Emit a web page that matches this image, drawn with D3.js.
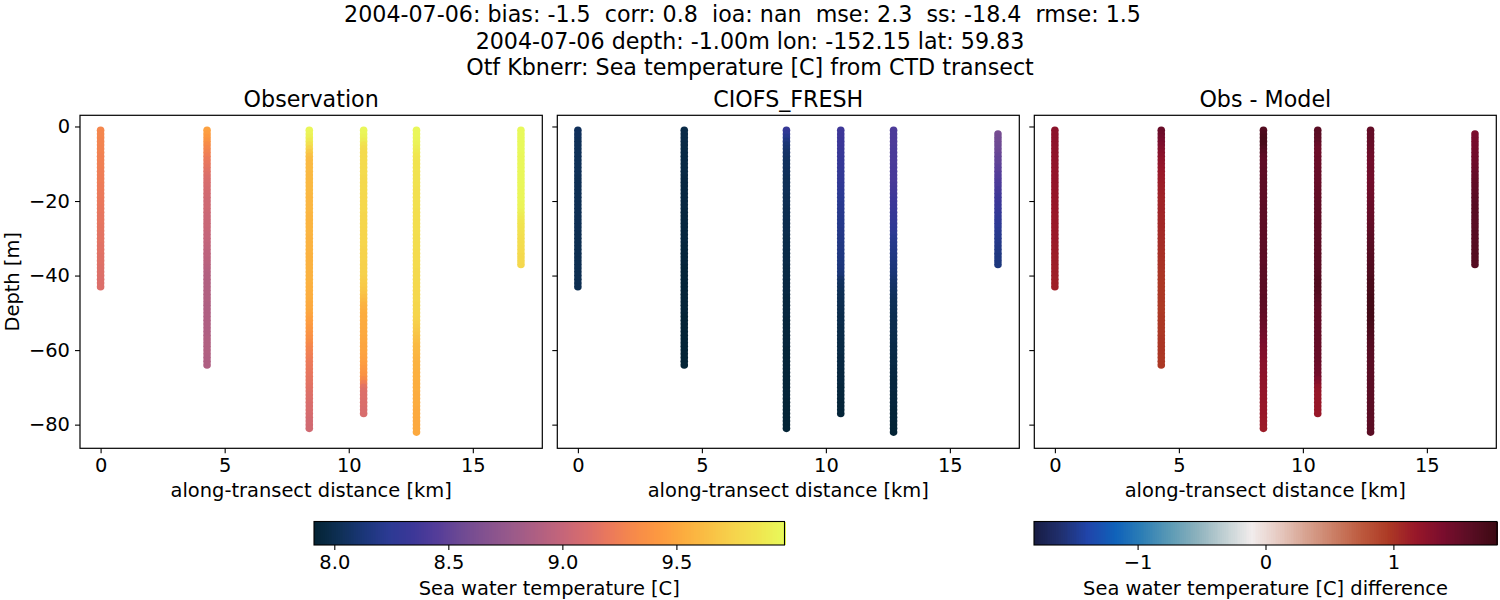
<!DOCTYPE html>
<html><head><meta charset="utf-8">
<script src="https://cdn.jsdelivr.net/npm/d3@7"></script>
<style>html,body{margin:0;padding:0;background:#fff}svg{display:block}text{font-family:"DejaVu Sans";fill:#000}</style>
</head><body><svg id="c" width="1500" height="600"></svg>
<script>
const titleLines = ["2004-07-06: bias: -1.5  corr: 0.8  ioa: nan  mse: 2.3  ss: -18.4  rmse: 1.5","2004-07-06 depth: -1.00m lon: -152.15 lat: 59.83","Otf Kbnerr: Sea temperature [C] from CTD transect"];
const panelTitles = ["Observation","CIOFS_FRESH","Obs - Model"];
const castDistance = [0, 4.29, 8.41, 10.6, 12.73, 16.94];
const obsFirstDepth = [1,1,1,1,1,1];
const modelFirstDepth = [1,1,1,1,1,2];
const xTicks = [0,5,10,15];
const yTicks = [0,-20,-40,-60,-80];
const tempTicks = [8.0,8.5,9.0,9.5];
const diffTicks = [-1,0,1];

const obs0 = [9.30,9.29,9.29,9.28,9.28,9.27,9.27,9.26,9.26,9.25,9.25,9.24,9.24,9.23,9.23,9.22,9.22,9.21,9.21,9.20,9.20,9.19,9.19,9.18,9.18,9.18,9.17,9.17,9.16,9.16,9.16,9.15,9.15,9.15,9.14,9.14,9.14,9.13,9.13,9.13,9.12,9.12,9.12];
const obs1 = [9.47,9.45,9.42,9.38,9.33,9.30,9.27,9.24,9.21,9.19,9.17,9.15,9.13,9.11,9.10,9.09,9.08,9.07,9.06,9.05,9.05,9.05,9.04,9.03,9.03,9.02,9.02,9.01,9.00,9.00,8.99,8.98,8.97,8.96,8.96,8.95,8.94,8.93,8.92,8.91,8.91,8.90,8.90,8.90,8.90,8.90,8.90,8.89,8.89,8.89,8.89,8.89,8.89,8.89,8.89,8.89,8.90,8.90,8.90,8.90,8.90,8.89,8.89,8.89];
const obs2 = [9.95,9.94,9.92,9.88,9.83,9.76,9.70,9.65,9.62,9.61,9.61,9.61,9.60,9.60,9.60,9.60,9.60,9.60,9.59,9.59,9.59,9.59,9.59,9.58,9.58,9.58,9.58,9.58,9.58,9.57,9.57,9.57,9.57,9.57,9.56,9.56,9.56,9.56,9.56,9.56,9.56,9.56,9.55,9.55,9.54,9.54,9.53,9.52,9.51,9.50,9.48,9.46,9.44,9.42,9.40,9.38,9.36,9.33,9.30,9.28,9.26,9.24,9.22,9.21,9.20,9.19,9.18,9.17,9.16,9.15,9.14,9.13,9.12,9.11,9.10,9.10,9.09,9.08,9.07,9.07,9.06];
const obs3 = [9.96,9.95,9.93,9.90,9.85,9.81,9.80,9.80,9.80,9.80,9.80,9.80,9.80,9.79,9.79,9.79,9.79,9.79,9.78,9.78,9.78,9.78,9.78,9.77,9.77,9.77,9.77,9.76,9.76,9.76,9.76,9.76,9.75,9.75,9.75,9.75,9.74,9.74,9.74,9.74,9.72,9.71,9.70,9.68,9.66,9.63,9.60,9.57,9.55,9.54,9.53,9.53,9.52,9.52,9.51,9.51,9.50,9.50,9.49,9.49,9.48,9.47,9.46,9.44,9.42,9.40,9.38,9.32,9.24,9.16,9.13,9.12,9.12,9.11,9.11,9.10,9.10];
const obs4 = [9.96,9.95,9.95,9.94,9.93,9.91,9.89,9.87,9.86,9.85,9.85,9.85,9.84,9.84,9.84,9.84,9.83,9.83,9.83,9.83,9.83,9.83,9.82,9.82,9.82,9.82,9.82,9.82,9.82,9.81,9.81,9.81,9.81,9.80,9.80,9.80,9.80,9.80,9.79,9.79,9.79,9.79,9.78,9.78,9.78,9.78,9.78,9.77,9.77,9.77,9.76,9.75,9.73,9.71,9.69,9.67,9.65,9.63,9.61,9.60,9.59,9.58,9.57,9.56,9.56,9.55,9.55,9.55,9.54,9.54,9.54,9.53,9.53,9.53,9.53,9.52,9.52,9.52,9.51,9.51,9.51,9.51];
const obs5 = [9.97,9.97,9.97,9.97,9.97,9.97,9.97,9.96,9.96,9.96,9.96,9.96,9.96,9.96,9.96,9.96,9.95,9.95,9.95,9.95,9.94,9.94,9.92,9.90,9.88,9.86,9.85,9.84,9.83,9.82,9.81,9.81,9.80,9.80,9.79,9.79,9.78];

const mod0 = [8.04,8.04,8.04,8.03,8.03,8.03,8.03,8.03,8.03,8.03,8.03,8.03,8.03,8.02,8.02,8.02,8.02,8.02,8.02,8.02,8.02,8.02,8.02,8.02,8.02,8.02,8.02,8.02,8.01,8.01,8.01,8.01,8.01,8.01,8.01,8.01,8.01,8.01,8.01,8.01,8.01,8.01,8.01];
const mod1 = [7.98,7.98,7.98,7.98,7.97,7.97,7.97,7.97,7.97,7.97,7.97,7.97,7.97,7.96,7.96,7.96,7.96,7.96,7.96,7.96,7.96,7.96,7.95,7.95,7.95,7.95,7.95,7.95,7.95,7.95,7.95,7.94,7.94,7.94,7.94,7.94,7.94,7.93,7.93,7.93,7.93,7.93,7.93,7.93,7.93,7.93,7.93,7.93,7.93,7.93,7.92,7.92,7.92,7.92,7.92,7.92,7.92,7.92,7.92,7.92,7.92,7.92,7.92,7.92];
const mod2 = [8.30,8.26,8.21,8.16,8.12,8.10,8.08,8.07,8.06,8.05,8.05,8.04,8.04,8.03,8.03,8.03,8.03,8.03,8.02,8.02,8.02,8.01,8.01,8.01,8.01,8.00,8.00,8.00,8.00,7.99,7.99,7.99,7.99,7.98,7.98,7.98,7.98,7.97,7.97,7.97,7.97,7.96,7.96,7.96,7.96,7.95,7.95,7.95,7.95,7.95,7.95,7.94,7.94,7.94,7.94,7.94,7.94,7.94,7.94,7.93,7.93,7.93,7.93,7.93,7.93,7.93,7.93,7.93,7.93,7.93,7.93,7.93,7.93,7.92,7.92,7.92,7.92,7.92,7.92,7.92,7.92];
const mod3 = [8.36,8.35,8.35,8.34,8.34,8.33,8.32,8.32,8.31,8.30,8.30,8.29,8.29,8.28,8.28,8.27,8.26,8.25,8.24,8.23,8.22,8.22,8.21,8.21,8.20,8.20,8.20,8.19,8.19,8.18,8.18,8.17,8.17,8.16,8.16,8.15,8.15,8.14,8.13,8.12,8.08,8.05,8.04,8.03,8.02,8.02,8.01,8.01,8.00,8.00,7.99,7.99,7.99,7.98,7.98,7.98,7.98,7.97,7.97,7.97,7.97,7.96,7.96,7.96,7.96,7.95,7.95,7.95,7.95,7.94,7.94,7.94,7.94,7.93,7.93,7.93,7.93];
const mod4 = [8.42,8.42,8.42,8.42,8.42,8.41,8.41,8.41,8.41,8.41,8.40,8.40,8.40,8.40,8.40,8.39,8.38,8.37,8.36,8.35,8.34,8.33,8.32,8.31,8.30,8.29,8.27,8.26,8.24,8.22,8.21,8.20,8.19,8.18,8.17,8.16,8.15,8.14,8.13,8.12,8.10,8.08,8.07,8.06,8.05,8.04,8.03,8.03,8.02,8.02,8.01,8.01,8.00,8.00,8.00,7.99,7.99,7.99,7.98,7.98,7.98,7.97,7.97,7.97,7.96,7.96,7.96,7.95,7.95,7.95,7.95,7.94,7.94,7.94,7.94,7.93,7.93,7.93,7.93,7.92,7.92,7.92];
const mod5 = [8.60,8.58,8.57,8.56,8.55,8.54,8.52,8.51,8.50,8.48,8.47,8.45,8.44,8.42,8.41,8.39,8.38,8.36,8.35,8.33,8.32,8.30,8.29,8.27,8.26,8.25,8.23,8.22,8.21,8.20,8.19,8.18,8.17,8.16,8.16,8.15];

const obsCasts = [obs0,obs1,obs2,obs3,obs4,obs5];
const modelCasts = [mod0,mod1,mod2,mod3,mod4,mod5];

const thermalStops = ["#032333","#0e2f54","#1a3678","#2b3a93","#3c3798","#553d99","#6f4a93","#85528f","#9a5a8a","#af5f82","#c4657a","#d96d6c","#ec7a5a","#f78b49","#fd9a40","#fcae3f","#f9c145","#f6d44c","#f0e650","#e8fa5b"];
const balanceStops = ["#181c43","#20306f","#2045ab","#0f62ba","#2e7fb5","#5b9ab5","#8db2bd","#c1d0d3","#f1ecec","#e6c9c0","#d7a290","#cb7f66","#bd5a3e","#ad3a25","#981729","#7a0d2d","#5a0d24","#3c0912"];

const tempDomain = [7.911, 9.974];
const diffDomain = [-1.81, 1.81];
const thermal = d3.scaleLinear().domain(d3.range(thermalStops.length).map(i=>tempDomain[0]+(tempDomain[1]-tempDomain[0])*i/(thermalStops.length-1))).range(thermalStops).clamp(true);
const balance = d3.scaleLinear().domain(d3.range(balanceStops.length).map(i=>diffDomain[0]+(diffDomain[1]-diffDomain[0])*i/(balanceStops.length-1))).range(balanceStops).clamp(true);

function point(arr, first, cast){return arr.map((v,i)=>({x:castDistance[cast],depth:-(i+first),v}));}
const obsPoints = obsCasts.flatMap((a,c)=>point(a,obsFirstDepth[c],c));
const modelPoints = modelCasts.flatMap((a,c)=>point(a,modelFirstDepth[c],c));
const diffPoints = modelCasts.flatMap((a,c)=>a.map((v,i)=>({x:castDistance[c],depth:-(i+modelFirstDepth[c]),v:obsCasts[c][i+modelFirstDepth[c]-obsFirstDepth[c]]-v})));

const svg = d3.select("#c");
const F = 19.44, TF = 22.2;
svg.selectAll("text.sup").data(titleLines).join("text").attr("class","sup")
  .attr("x",(d,i)=>i==0?742.5:750).attr("y",(d,i)=>[22,48.5,74.5][i]).attr("text-anchor","middle").style("font-size",TF+"px").style("white-space","pre").attr("xml:space","preserve").text(d=>d);

const panels = [{l:80,r:542.3,pts:obsPoints,col:thermal},{l:557.3,r:1019.3,pts:modelPoints,col:thermal},{l:1034.3,r:1496.3,pts:diffPoints,col:balance}];
const axTop=115.3,axBot=448.3;
panels.forEach((p,k)=>{
  const x = d3.scaleLinear().domain([-0.83,17.8]).range([p.l,p.r]);
  const y = d3.scaleLinear().domain([3,-86.35]).range([axTop,axBot]);
  const g = svg.append("g");
  g.selectAll("circle").data(p.pts).join("circle").attr("cx",d=>x(d.x)).attr("cy",d=>y(d.depth)).attr("r",3.8).attr("fill",d=>p.col(d.v));
  g.append("rect").attr("x",p.l).attr("y",axTop).attr("width",p.r-p.l).attr("height",axBot-axTop).attr("fill","none").attr("stroke","#000").attr("stroke-width",1.2);
  const ax = d3.axisBottom(x).tickValues(xTicks).tickSize(5).tickPadding(4.5).tickFormat(d3.format("d"));
  const gx = g.append("g").attr("transform",`translate(0,${axBot})`).call(ax);
  const ay = d3.axisLeft(y).tickValues(yTicks).tickSize(5).tickPadding(5).tickFormat(k==0?d3.format("d"):"");
  const gy = g.append("g").attr("transform",`translate(${p.l},0)`).call(ay);
  [gx,gy].forEach(a=>{a.select(".domain").remove();a.selectAll("line").attr("stroke","#000").attr("stroke-width",1.1);a.selectAll("text").style("font-family","DejaVu Sans").style("font-size",F+"px").attr("fill","#000");});
  g.append("text").attr("x",(p.l+p.r)/2).attr("y",107).attr("text-anchor","middle").style("font-size",TF+"px").text(panelTitles[k]);
  g.append("text").attr("x",(p.l+p.r)/2).attr("y",497).attr("text-anchor","middle").style("font-size",F+"px").text("along-transect distance [km]");
  if(k==0) g.append("text").attr("transform",`translate(18.5,${(axTop+axBot)/2}) rotate(-90)`).attr("text-anchor","middle").style("font-size",F+"px").text("Depth [m]");
});

function colorbar(x0,x1,domain,col,ticks,label,fmt){
  const s = d3.scaleLinear().domain(domain).range([x0,x1]);
  const g = svg.append("g"), y0=521.5,y1=545;
  const n = 256, w=(x1-x0)/n;
  g.selectAll("rect.b").data(d3.range(n)).join("rect").attr("class","b").attr("x",i=>x0+i*w).attr("y",y0).attr("width",w+1).attr("height",y1-y0).attr("shape-rendering","crispEdges").attr("fill",i=>col(domain[0]+(domain[1]-domain[0])*(i+0.5)/n));
  g.append("rect").attr("x",x0).attr("y",y0).attr("width",x1-x0).attr("height",y1-y0).attr("fill","none").attr("stroke","#000").attr("stroke-width",1.1);
  const a = g.append("g").attr("transform",`translate(0,${y1})`).call(d3.axisBottom(s).tickValues(ticks).tickSize(5).tickPadding(5.5).tickFormat(fmt));
  a.select(".domain").remove();a.selectAll("line").attr("stroke","#000").attr("stroke-width",1.1);a.selectAll("text").style("font-family","DejaVu Sans").style("font-size",F+"px").attr("fill","#000");
  g.append("text").attr("x",(x0+x1)/2).attr("y",594.5).attr("text-anchor","middle").style("font-size",F+"px").text(label);
}
colorbar(314,784.5,tempDomain,thermal,tempTicks,"Sea water temperature [C]",d3.format(".1f"));
colorbar(1034,1497,diffDomain,balance,diffTicks,"Sea water temperature [C] difference",d3.format("d"));
</script></body></html>
